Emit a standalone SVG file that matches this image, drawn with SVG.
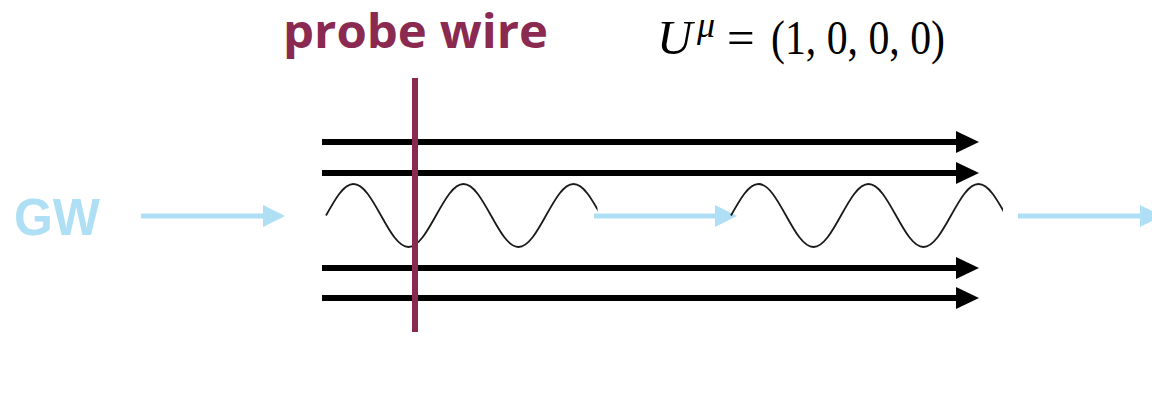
<svg xmlns="http://www.w3.org/2000/svg" width="1152" height="405" viewBox="0 0 1152 405">
  <style>
    .beam { stroke: #000; stroke-width: 6; fill: none; }
    .gw { stroke: #aedff5; stroke-width: 5; fill: none; }
    .wave { stroke: #1a1a1a; stroke-width: 1.8; fill: none; }
    .math { font-family: "Liberation Serif", "DejaVu Serif", serif; fill: #000; }
  </style>
  <defs>
    <marker id="blackHead" markerUnits="userSpaceOnUse" markerWidth="24" markerHeight="24" refX="0" refY="11" orient="auto">
      <path d="M0,0 L23,11 L0,22 Z" fill="#000"/>
    </marker>
    <marker id="blueHead" markerUnits="userSpaceOnUse" markerWidth="24" markerHeight="24" refX="0" refY="11" orient="auto">
      <path d="M0,0 L22,11 L0,22 Z" fill="#aedff5"/>
    </marker>
    <clipPath id="clip1"><rect x="320" y="170" width="277.5" height="90"/></clipPath>
    <clipPath id="clip2"><rect x="725" y="170" width="278" height="90"/></clipPath>
  </defs>
  <rect width="1152" height="405" fill="#fff"/>

  <g id="title-probe">
    <text x="283" y="48" font-family="'Open Sans', 'Liberation Sans', sans-serif" font-weight="bold" font-size="46" fill="#8a2a50" textLength="265" lengthAdjust="spacingAndGlyphs">probe wire</text>
  </g>

  <g id="formula" class="math">
    <text y="54" font-size="49"><tspan x="657" font-style="italic">U</tspan><tspan x="697" y="37" font-size="36" font-style="italic">μ</tspan><tspan x="727" y="54">=</tspan><tspan x="771" y="54" textLength="174" lengthAdjust="spacingAndGlyphs">(1, 0, 0, 0)</tspan></text>
  </g>

  <g id="gw-label">
    <text x="14" y="235" font-family="'Liberation Sans', Arial, sans-serif" font-weight="bold" font-size="51" fill="#aedff5" textLength="86" lengthAdjust="spacingAndGlyphs">GW</text>
  </g>

  <g id="connectors">
    <line class="beam" x1="322" y1="142" x2="956" y2="142" marker-end="url(#blackHead)"/>
    <line class="beam" x1="322" y1="173" x2="956" y2="173" marker-end="url(#blackHead)"/>
    <line class="beam" x1="322" y1="268" x2="956" y2="268" marker-end="url(#blackHead)"/>
    <line class="beam" x1="322" y1="298" x2="956" y2="298" marker-end="url(#blackHead)"/>
    <line class="gw" x1="141" y1="216" x2="263" y2="216" marker-end="url(#blueHead)"/>
    <line class="gw" x1="594" y1="216" x2="715" y2="216" marker-end="url(#blueHead)"/>
    <line class="gw" x1="1018" y1="216" x2="1140" y2="216" marker-end="url(#blueHead)"/>
  </g>

  <g id="wave-1" clip-path="url(#clip1)">
    <path class="wave" d="M326,215.5 c8.97,-16.14 17.55,-31.5 27.5,-31.5 c9.950,0 18.53,15.36 27.5,31.5 c8.97,16.14 17.55,31.5 27.5,31.5 c9.95,0 18.53,-15.36 27.5,-31.5 c8.97,-16.14 17.55,-31.5 27.5,-31.5 c9.95,0 18.53,15.36 27.5,31.5 c8.97,16.14 17.55,31.5 27.5,31.5 c9.95,0 18.53,-15.36 27.5,-31.5 c8.97,-16.14 17.55,-31.5 27.5,-31.5 c9.95,0 18.53,15.36 27.5,31.5"/>
  </g>
  <g id="wave-2" clip-path="url(#clip2)">
    <path class="wave" d="M731,215.5 c8.97,-16.14 17.55,-31.5 27.5,-31.5 c9.95,0 18.53,15.36 27.5,31.5 c8.97,16.14 17.55,31.5 27.5,31.5 c9.95,0 18.53,-15.36 27.5,-31.5 c8.97,-16.14 17.55,-31.5 27.5,-31.5 c9.95,0 18.53,15.36 27.5,31.5 c8.97,16.14 17.55,31.5 27.5,31.5 c9.95,0 18.53,-15.36 27.5,-31.5 c8.97,-16.14 17.55,-31.5 27.5,-31.5 c9.95,0 18.53,15.36 27.5,31.5"/>
  </g>

  <g id="probe-wire">
    <rect x="412" y="78" width="6" height="254" fill="#8a2a50"/>
  </g>
</svg>
